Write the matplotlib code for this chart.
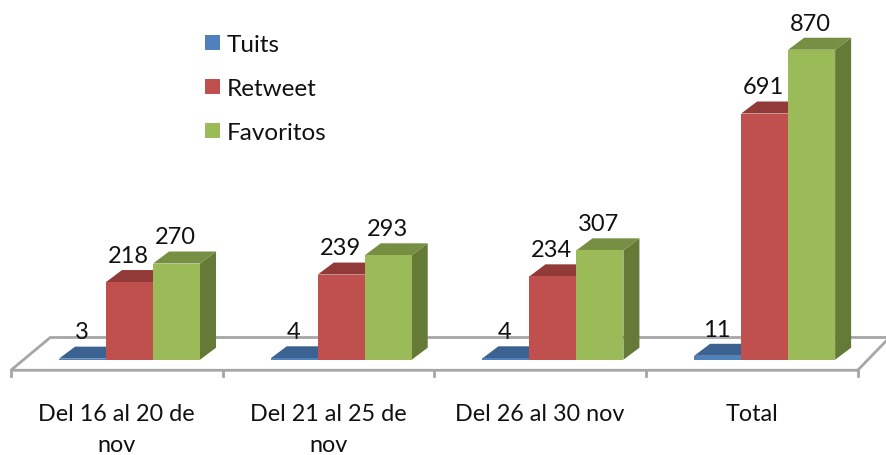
import matplotlib
matplotlib.use('Agg')
import numpy as np
import matplotlib.pyplot as plt
from matplotlib.patches import Polygon, Patch

plt.rcParams['font.family'] = ['Lato', 'DejaVu Sans']

categorias = ['Del 16 al 20 de\nnov', 'Del 21 al 25 de\nnov', 'Del 26 al 30 nov', 'Total']
tuits = [3, 4, 4, 11]
retweet = [218, 239, 234, 691]
favoritos = [270, 293, 307, 870]

series = [
    ('Tuits', tuits, '#4f81bd', '#3b6290', '#335a85'),
    ('Retweet', retweet, '#c0504d', '#923a38', '#8c3836'),
    ('Favoritos', favoritos, '#9bbb59', '#768f42', '#667a37'),
]

fig = plt.figure(figsize=(8.87, 4.56), dpi=100)
ax = fig.add_axes([0, 0, 1, 1])
ax.set_xlim(-0.6117, 3.578)
ax.set_ylim(-267.4, 1012.4)
ax.axis('off')

ancho = 0.222
dx = 0.0756   # fake 3d depth
dy = 33.7
gris = '#a6a6a6'
y_frente = -29.6
x_ini = -0.5604

# floor
ax.plot([x_ini + 4, x_ini, x_ini + 0.186, x_ini + 4.2],
        [y_frente, y_frente, y_frente + 92, y_frente + 92],
        color=gris, lw=2, zorder=1, solid_joinstyle='miter')
ax.plot([x_ini + 4, x_ini + 4.15], [y_frente, y_frente + 92], color=gris, lw=2, zorder=1)
for i in range(5):
    ax.plot([x_ini + i, x_ini + i], [y_frente, y_frente - 17], color=gris, lw=2, zorder=1)

for j, (nombre, valores, c_frente, c_arriba, c_lado) in enumerate(series):
    for i, v in enumerate(valores):
        x0 = i + (j - 1.5) * ancho
        x1 = x0 + ancho
        ax.add_patch(Polygon([(x1, 0), (x1 + dx, dy), (x1 + dx, v + dy), (x1, v)],
                             fc=c_lado, ec='none', zorder=2 + j))
        ax.add_patch(Polygon([(x0, v), (x1, v), (x1 + dx, v + dy), (x0 + dx, v + dy)],
                             fc=c_arriba, ec='none', zorder=2 + j))
        ax.add_patch(Polygon([(x0, 0), (x1, 0), (x1, v), (x0, v)],
                             fc=c_frente, ec='none', zorder=2 + j))
        ax.text(x0 + ancho / 2 - 0.005, v + 75, str(v), ha='center', va='center',
                fontsize=17, color='#111111', zorder=10)

for i, cat in enumerate(categorias):
    ax.text(i - 0.0614, -121, cat, ha='center', va='top', fontsize=16.8,
            color='#111111', linespacing=1.58)

handles = [Patch(fc=s[2], ec='none', label=s[0]) for s in series]
ax.legend(handles=handles, loc='upper left', bbox_to_anchor=(0.231, 0.924), frameon=False,
          fontsize=17.5, labelcolor='#111111', handlelength=0.63, handleheight=0.57,
          handletextpad=0.27, labelspacing=0.95, borderpad=0, borderaxespad=0)

fig.savefig('out.png', dpi=100)
